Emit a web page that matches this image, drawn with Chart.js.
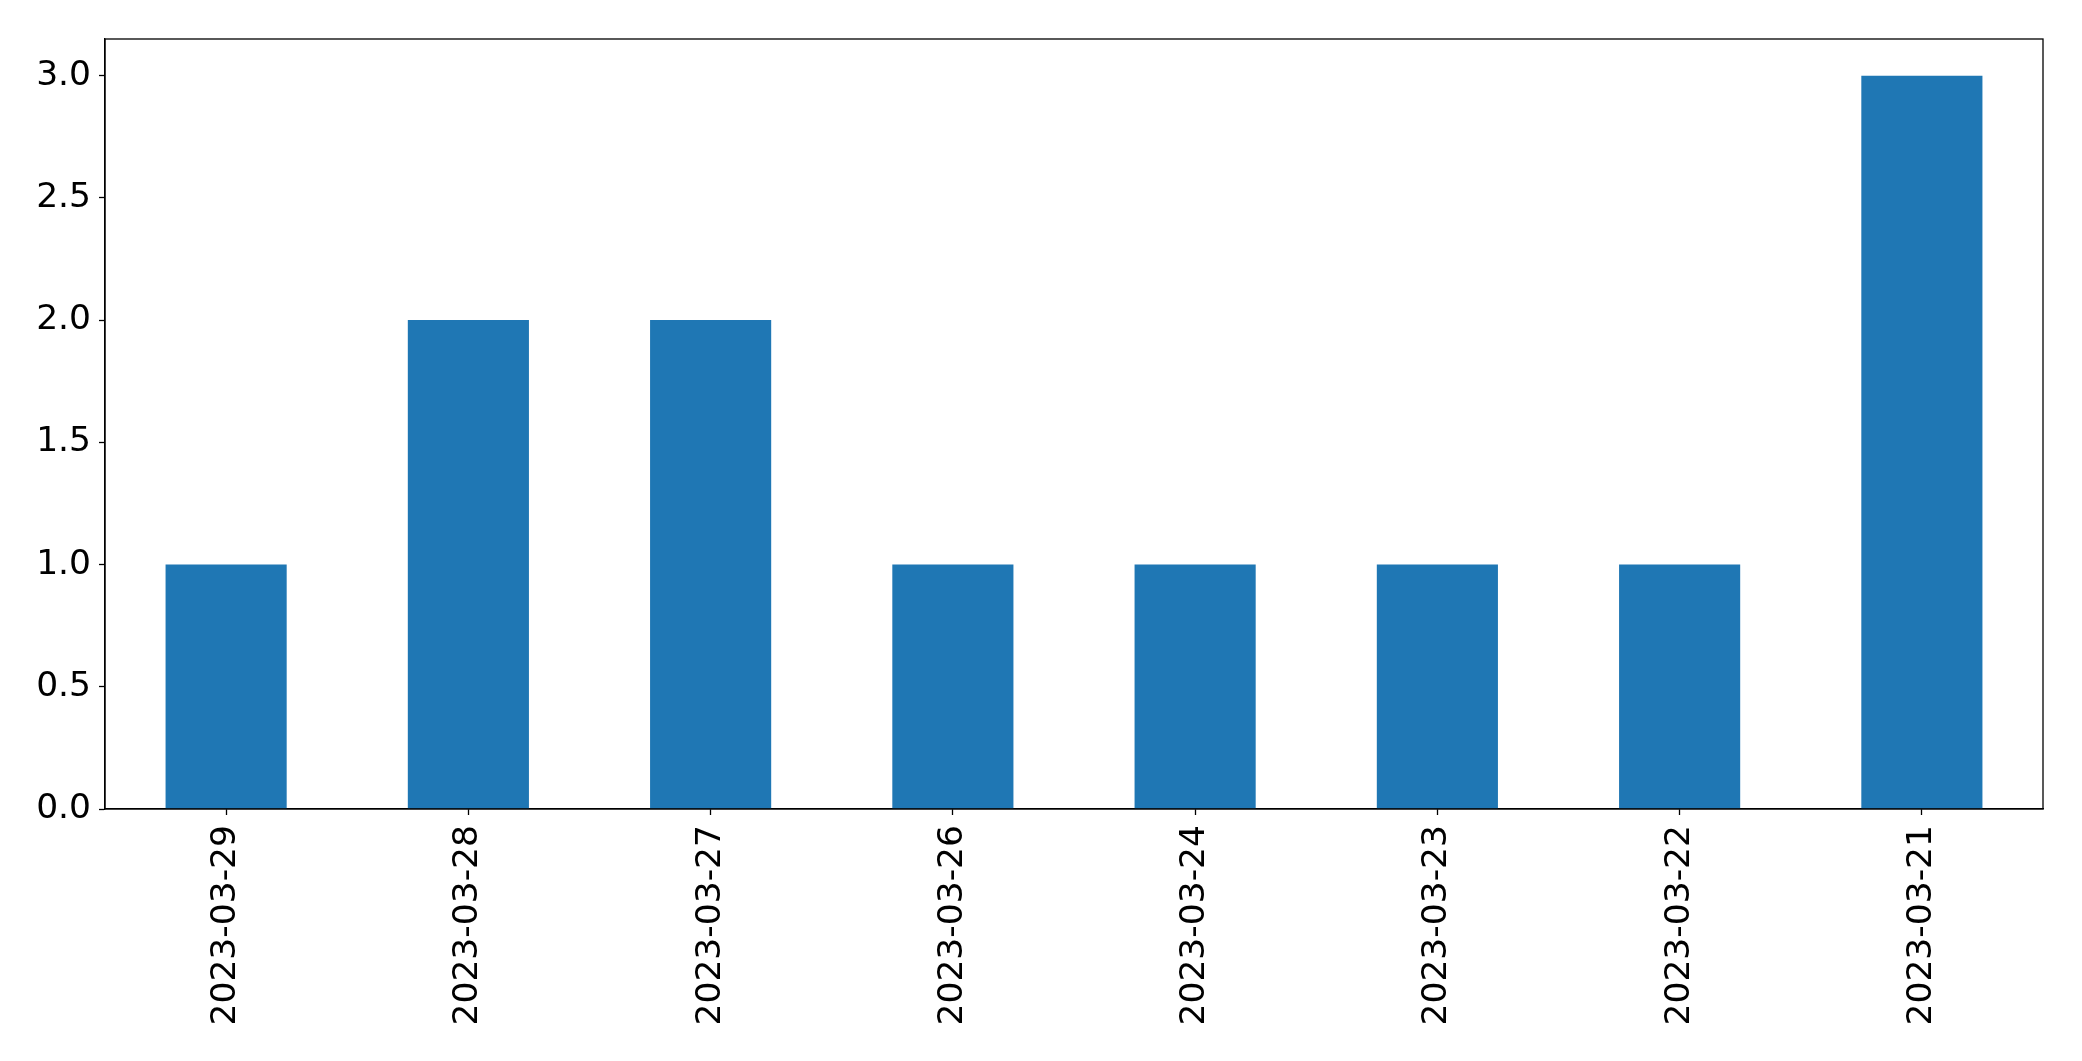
<!DOCTYPE html>
<html>
<head>
<meta charset="utf-8">
<script src="https://cdn.jsdelivr.net/npm/chart.js@4/dist/chart.umd.min.js"></script>
<style>
html,body{margin:0;padding:0;background:#fff;overflow:hidden;}
canvas{display:block;}
</style>
</head>
<body>
<canvas id="c" width="2082" height="1061"></canvas>
<script>
const categories = ["2023-03-29","2023-03-28","2023-03-27","2023-03-26","2023-03-24","2023-03-23","2023-03-22","2023-03-21"];
const counts = [1,2,2,1,1,1,1,3];
const yTicks = [0,0.5,1.0,1.5,2.0,2.5,3.0];

const frame = {
  id:'frame',
  afterDraw(chart){
    const a = chart.chartArea, ctx = chart.ctx;
    ctx.save();
    ctx.strokeStyle = '#000';
    ctx.lineWidth = 1.3;
    ctx.strokeRect(a.left, a.top, a.right - a.left, a.bottom - a.top);
    ctx.restore();
  }
};

new Chart(document.getElementById('c'), {
  type:'bar',
  data:{
    labels: categories,
    datasets:[{data: counts, backgroundColor:'#1f77b4', borderWidth:0, barPercentage:0.5, categoryPercentage:1.0}]
  },
  options:{
    responsive:false,
    animation:false,
    devicePixelRatio:1,
    layout:{padding:{left:0, top:39, right:39, bottom:0}},
    plugins:{legend:{display:false}, tooltip:{enabled:false}},
    scales:{
      x:{
        offset:true,
        grid:{display:true, offset:false, drawOnChartArea:false, drawTicks:true, tickLength:6, color:'#000', tickWidth:1.3},
        border:{display:true, color:'#000', width:1.3},
        ticks:{autoSkip:false, maxRotation:90, minRotation:90, padding:10, color:'#000', font:{family:'DejaVu Sans', size:34.5}},
        afterFit(s){ s.height = 252; }
      },
      y:{
        min:0, max:3.15,
        afterBuildTicks(s){ s.ticks = yTicks.map(v=>({value:v})); },
        grid:{display:true, drawOnChartArea:false, drawTicks:true, tickLength:6, color:'#000', tickWidth:1.3},
        border:{display:true, color:'#000', width:1.3},
        ticks:{padding:8, color:'#000', font:{family:'DejaVu Sans', size:34.5}, callback:(v)=>Number(v).toFixed(1)},
        afterFit(s){ s.width = 105; }
      }
    }
  },
  plugins:[frame]
});
</script>
</body>
</html>
